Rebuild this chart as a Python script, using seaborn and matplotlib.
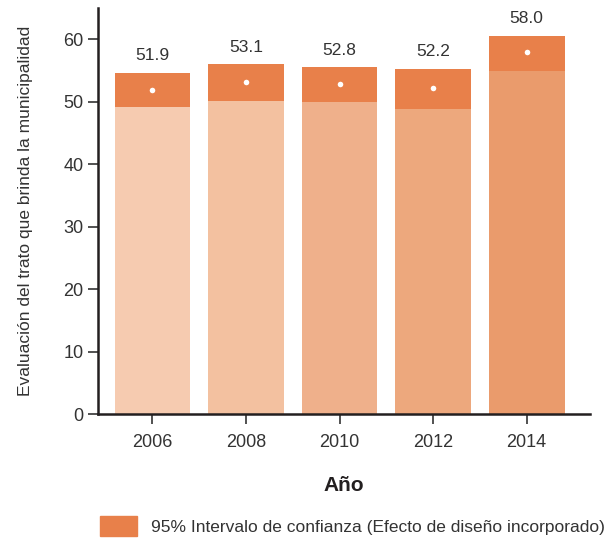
import numpy as np
import pandas as pd
import matplotlib
matplotlib.use("Agg")
import matplotlib.pyplot as plt
import matplotlib.patches as mpatches
import seaborn as sns

years = ["2006", "2008", "2010", "2012", "2014"]
means = [51.9, 53.1, 52.8, 52.2, 58.0]
ci_low = [49.2, 50.1, 50.0, 48.9, 55.0]
ci_high = [54.6, 56.0, 55.5, 55.3, 60.5]
light_colors = ["#F6CBB0", "#F3C1A0", "#EFB08B", "#EDA87D", "#EA9B6C"]
ci_color = "#E8804A"
text_color = "#333333"

df = pd.DataFrame({"year": years, "mean": means, "low": ci_low, "high": ci_high})

sns.set_style("white")
plt.rcParams["font.family"] = ["Liberation Sans", "DejaVu Sans"]

fig = plt.figure(figsize=(6.06, 5.38), dpi=100)
ax = fig.add_axes([0.162, 0.23, 0.812, 0.755])

# full bar up to upper CI in dark, lighter part below lower CI
sns.barplot(data=df, x="year", y="high", color=ci_color, width=0.81,
            saturation=1, linewidth=0, ax=ax)
sns.barplot(data=df, x="year", y="low", hue="year", palette=light_colors,
            width=0.81, saturation=1, linewidth=0, legend=False, ax=ax)
sns.stripplot(data=df, x="year", y="mean", color="white", jitter=False,
              size=4, linewidth=0, ax=ax, zorder=5)

for i, (m, h) in enumerate(zip(means, ci_high)):
    ax.annotate(f"{m:.1f}", xy=(i, h), xytext=(0, 7), textcoords="offset points",
                ha="center", va="bottom", fontsize=12.5, color=text_color)

ax.set_ylim(0, 65)
ax.set_xlim(-0.58, 4.68)
ax.set_yticks([0, 10, 20, 30, 40, 50, 60])
ax.tick_params(axis="both", direction="out", length=7, width=1.2,
               colors=text_color, labelsize=13, bottom=True, left=True)
ax.tick_params(axis="x", pad=7)
for s in ["top", "right"]:
    ax.spines[s].set_visible(False)
for s in ["left", "bottom"]:
    ax.spines[s].set_linewidth(1.8)
    ax.spines[s].set_color("#231F20")

ax.set_xlabel("Año", fontsize=15, fontweight="bold", color="#231F20", labelpad=18)
ax.set_ylabel("Evaluación del trato que brinda la municipalidad", fontsize=12.5,
              color=text_color, labelpad=22)

handle = mpatches.Patch(color=ci_color,
                        label="95% Intervalo de confianza (Efecto de diseño incorporado)")
fig.legend(handles=[handle], loc="lower left", bbox_to_anchor=(0.14, -0.025),
           frameon=False, fontsize=12.5, handlelength=2.1, handleheight=1.4,
           handletextpad=0.8, labelcolor=text_color)

fig.savefig("out.png", dpi=100)
